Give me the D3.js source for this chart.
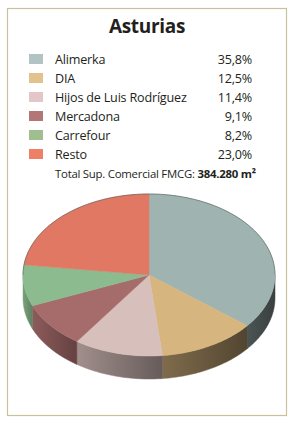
<!DOCTYPE html>
<html>
<head>
<meta charset="utf-8">
<script src="https://cdn.jsdelivr.net/npm/d3@7"></script>
<style>
  body { margin: 0; background: #fff; }
  text { font-family: "Open Sans", "Noto Sans", sans-serif; fill: #231f20; }
</style>
</head>
<body>
<script>
// Chart data
const title = "Asturias";
const names = ["Alimerka", "DIA", "Hijos de Luis Rodríguez", "Mercadona", "Carrefour", "Resto"];
const shares = [35.8, 12.5, 11.4, 9.1, 8.2, 23.0];
const shareLabels = ["35,8%", "12,5%", "11,4%", "9,1%", "8,2%", "23,0%"];
const legendColors = ["#b1c4c3", "#e2c28d", "#e3c6c7", "#b37677", "#9fbf90", "#ee8068"];
const topColors = ["#9fb4b1", "#d6b57f", "#d7bfbb", "#a66c6b", "#8bbb8f", "#e07863"];
const totalLabel = "Total Sup. Comercial FMCG: ";
const totalValue = "384.280 m²";

const W = 293, H = 423;
const svg = d3.select("body").append("svg")
	.attr("width", W)
	.attr("height", H);

// Frame
svg.append("rect")
	.attr("x", 7.5).attr("y", 8.5)
	.attr("width", 279).attr("height", 407)
	.attr("fill", "none")
	.attr("stroke", "#c9c19c")
	.attr("stroke-width", 1.2);

// Title
svg.append("text")
	.attr("x", 147).attr("y", 33)
	.attr("text-anchor", "middle")
	.attr("font-size", 19)
	.attr("font-weight", "bold")
	.attr("letter-spacing", -0.3)
	.text(title);

// Legend
const rowY = d3.scalePoint().domain(names).range([64, 159]);
const legend = svg.selectAll("g.row")
	.data(names)
	.enter().append("g")
	.attr("class", "row")
	.attr("transform", d => `translate(0,${rowY(d)})`);

legend.append("rect")
	.attr("x", 29).attr("y", -10)
	.attr("width", 14).attr("height", 10)
	.attr("fill", (d, i) => legendColors[i]);

legend.append("text")
	.attr("x", 55)
	.attr("font-size", 12.6)
	.attr("letter-spacing", -0.2)
	.text(d => d);

legend.append("text")
	.attr("x", 252)
	.attr("text-anchor", "end")
	.attr("font-size", 12.6)
	.attr("letter-spacing", -0.2)
	.text((d, i) => shareLabels[i]);

const total = svg.append("text")
	.attr("x", 55).attr("y", 178)
	.attr("font-size", 11.4)
	.attr("letter-spacing", -0.25);
total.append("tspan").text(totalLabel);
total.append("tspan").attr("font-weight", "bold").text(totalValue);

// 3D pie
const cx = 149, cy = 275, rx = 126, ry = 81, depth = 23;
const pie = d3.pie().sort(null).value(d => d);
const arcs = pie(shares);

const pt = (a, dy) => [cx + rx * Math.sin(a), cy - ry * Math.cos(a) + (dy || 0)];
const sample = (a0, a1) => {
	const n = Math.max(2, Math.ceil((a1 - a0) / 0.02));
	return d3.range(n + 1).map(k => a0 + (a1 - a0) * k / n);
};

const defs = svg.append("defs");

// Side walls (front half only: angles PI/2 .. 3PI/2)
arcs.forEach((d, i) => {
	const a0 = Math.max(d.startAngle, Math.PI / 2);
	const a1 = Math.min(d.endAngle, 3 * Math.PI / 2);
	if (a1 <= a0) return;
	const angs = sample(a0, a1);
	const topPts = angs.map(a => pt(a));
	const botPts = angs.slice().reverse().map(a => pt(a, depth));
	const x0 = d3.min(topPts, p => p[0]), x1 = d3.max(topPts, p => p[0]);
	const base = d3.color(topColors[i]);
	const g = defs.append("linearGradient")
		.attr("id", "side" + i)
		.attr("gradientUnits", "userSpaceOnUse")
		.attr("x1", x0).attr("x2", x1).attr("y1", 0).attr("y2", 0);
	g.append("stop").attr("offset", 0).attr("stop-color", base.darker(0.4 + (x0 - cx + rx) / (2 * rx) * 1.9));
	g.append("stop").attr("offset", 1).attr("stop-color", base.darker(1.0 + (x1 - cx + rx) / (2 * rx) * 1.9));
	svg.append("path")
		.attr("d", d3.line()(topPts.concat(botPts)) + "Z")
		.attr("fill", `url(#side${i})`)
		.attr("stroke", `url(#side${i})`)
		.attr("stroke-width", 0.5);
});

// Top face
arcs.forEach((d, i) => {
	const pts = [[cx, cy]].concat(sample(d.startAngle, d.endAngle).map(a => pt(a)));
	svg.append("path")
		.attr("d", d3.line()(pts) + "Z")
		.attr("fill", topColors[i])
		.attr("stroke", topColors[i])
		.attr("stroke-width", 0.5);
});

// Rim outline on the back edge
svg.append("path")
	.attr("d", d3.line()(sample(-Math.PI / 2, Math.PI / 2).map(a => pt(a))))
	.attr("fill", "none")
	.attr("stroke", "#4a4f52")
	.attr("stroke-opacity", 0.7)
	.attr("stroke-width", 0.8);
</script>
</body>
</html>
